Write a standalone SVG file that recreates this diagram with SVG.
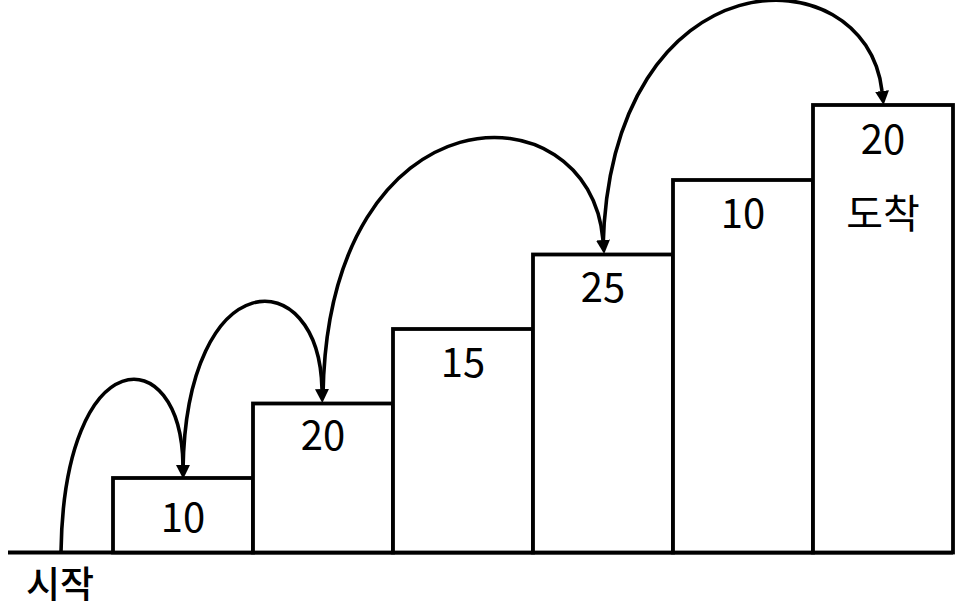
<svg xmlns="http://www.w3.org/2000/svg" width="962" height="610" viewBox="0 0 962 610">
<style>
.step{fill:#fff;stroke:#000;stroke-width:3.8}
.lbl{font-family:"Noto Sans CJK KR","Noto Sans",sans-serif;font-size:40px;fill:#000;text-anchor:middle;dominant-baseline:central}
.arc{fill:none;stroke:#000;stroke-width:3.6}
</style>
<defs>
<marker id="ah" markerUnits="userSpaceOnUse" markerWidth="14" markerHeight="14" viewBox="0 0 12 12" refX="0" refY="6" orient="auto">
<path d="M0,0 L12,6 L0,12 Z" fill="#000"/>
</marker>
</defs>
<rect width="962" height="610" fill="#fff"/>
<g id="ground">
<line x1="8" y1="552.5" x2="953" y2="552.5" stroke="#000" stroke-width="3.8"/>
</g>
<g id="step1"><rect class="step" x="113" y="478" width="140" height="74.5"/><text class="lbl" x="183" y="515">10</text></g>
<g id="step2"><rect class="step" x="253" y="403.5" width="140" height="149"/><text class="lbl" x="323" y="433">20</text></g>
<g id="step3"><rect class="step" x="393" y="329" width="140" height="223.5"/><text class="lbl" x="463" y="360">15</text></g>
<g id="step4"><rect class="step" x="533" y="254.5" width="140" height="298"/><text class="lbl" x="603" y="285">25</text></g>
<g id="step5"><rect class="step" x="673" y="180" width="140" height="372.5"/><text class="lbl" x="743" y="211">10</text></g>
<g id="step6"><rect class="step" x="813" y="105" width="140" height="447.5"/><text class="lbl" x="883" y="137">20</text><text class="lbl" x="883" y="211">도착</text></g>
<g id="start"><text class="lbl" x="60" y="582" style="font-weight:500;font-size:37px">시작</text></g>
<g id="connectors">
<path class="arc" marker-end="url(#ah)" d="M61,552 C64,339 181,339 183,465"/>
<path class="arc" marker-end="url(#ah)" d="M183,470 C186,261 319,261 322,389"/>
<path class="arc" marker-end="url(#ah)" d="M323,395 C328,84 590,84 603,240"/>
<path class="arc" marker-end="url(#ah)" d="M603,248 C610,-49 866,-49 882,91"/>
</g>
</svg>
